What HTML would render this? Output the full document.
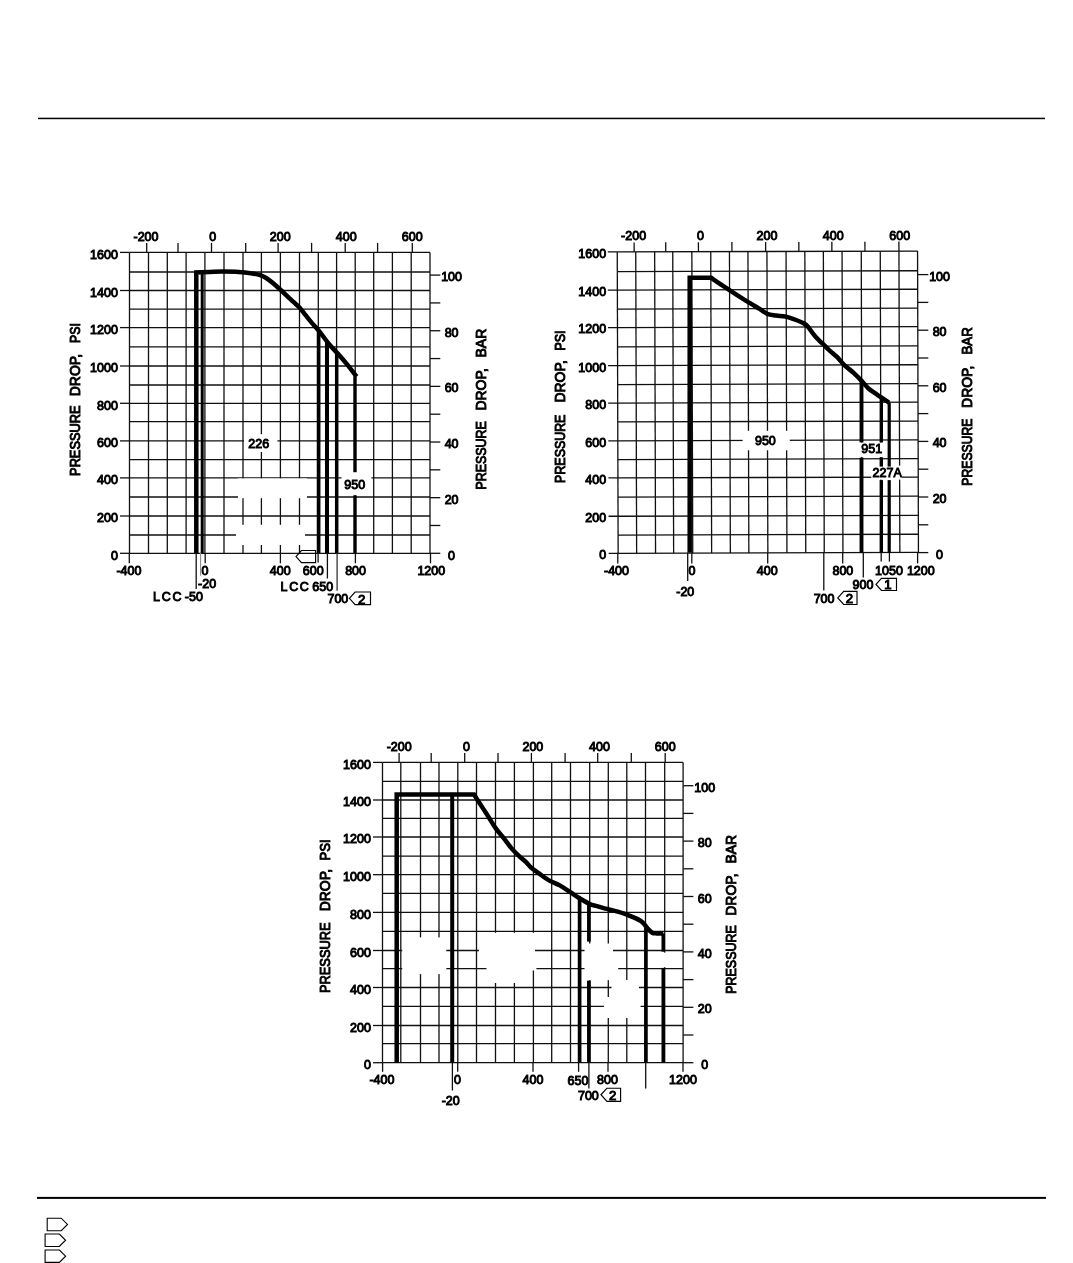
<!DOCTYPE html><html><head><meta charset="utf-8"><style>html,body{margin:0;padding:0;background:#fff;width:1073px;height:1263px;overflow:hidden}svg{display:block;will-change:transform}text{font-family:"Liberation Sans",sans-serif;font-weight:normal;fill:#000;stroke:#000;stroke-width:0.95px}</style></head><body>
<svg width="1073" height="1263" viewBox="0 0 1073 1263">
<rect x="0" y="0" width="1073" height="1263" fill="#fff"/>
<rect x="38" y="117.7" width="1007" height="1.5" fill="#000"/>
<rect x="37" y="1196.9" width="1009" height="2" fill="#000"/>
<path d="M47.20,1218.20 L61.25,1218.20 L67.50,1224.45 L61.25,1230.70 L47.20,1230.70 Z" fill="none" stroke="#000" stroke-width="1.1"/>
<path d="M45.10,1234.00 L59.35,1234.00 L65.60,1240.25 L59.35,1246.50 L45.10,1246.50 Z" fill="none" stroke="#000" stroke-width="1.1"/>
<path d="M45.10,1250.00 L59.40,1250.00 L65.60,1256.20 L59.40,1262.40 L45.10,1262.40 Z" fill="none" stroke="#000" stroke-width="1.1"/>
<g transform="rotate(0 279.8 402.8)">
<line x1="129.50" y1="252.40" x2="129.50" y2="553.30" stroke="#101010" stroke-width="1.3" stroke-linecap="butt"/>
<line x1="148.50" y1="252.40" x2="148.50" y2="553.30" stroke="#101010" stroke-width="1.3" stroke-linecap="butt"/>
<line x1="167.30" y1="252.40" x2="167.30" y2="553.30" stroke="#101010" stroke-width="1.3" stroke-linecap="butt"/>
<line x1="186.10" y1="252.40" x2="186.10" y2="553.30" stroke="#101010" stroke-width="1.3" stroke-linecap="butt"/>
<line x1="204.90" y1="252.40" x2="204.90" y2="553.30" stroke="#101010" stroke-width="1.3" stroke-linecap="butt"/>
<line x1="224.00" y1="252.40" x2="224.00" y2="553.30" stroke="#101010" stroke-width="1.3" stroke-linecap="butt"/>
<line x1="243.00" y1="252.40" x2="243.00" y2="553.30" stroke="#101010" stroke-width="1.3" stroke-linecap="butt"/>
<line x1="261.40" y1="252.40" x2="261.40" y2="553.30" stroke="#101010" stroke-width="1.3" stroke-linecap="butt"/>
<line x1="280.40" y1="252.40" x2="280.40" y2="553.30" stroke="#101010" stroke-width="1.3" stroke-linecap="butt"/>
<line x1="299.50" y1="252.40" x2="299.50" y2="553.30" stroke="#101010" stroke-width="1.3" stroke-linecap="butt"/>
<line x1="318.30" y1="252.40" x2="318.30" y2="553.30" stroke="#101010" stroke-width="1.3" stroke-linecap="butt"/>
<line x1="336.60" y1="252.40" x2="336.60" y2="553.30" stroke="#101010" stroke-width="1.3" stroke-linecap="butt"/>
<line x1="355.20" y1="252.40" x2="355.20" y2="553.30" stroke="#101010" stroke-width="1.3" stroke-linecap="butt"/>
<line x1="373.70" y1="252.40" x2="373.70" y2="553.30" stroke="#101010" stroke-width="1.3" stroke-linecap="butt"/>
<line x1="392.40" y1="252.40" x2="392.40" y2="553.30" stroke="#101010" stroke-width="1.3" stroke-linecap="butt"/>
<line x1="411.20" y1="252.40" x2="411.20" y2="553.30" stroke="#101010" stroke-width="1.3" stroke-linecap="butt"/>
<line x1="430.00" y1="252.40" x2="430.00" y2="553.30" stroke="#101010" stroke-width="1.3" stroke-linecap="butt"/>
<line x1="129.50" y1="252.40" x2="430.00" y2="252.40" stroke="#101010" stroke-width="1.3" stroke-linecap="butt"/>
<line x1="129.50" y1="272.00" x2="430.00" y2="272.00" stroke="#101010" stroke-width="1.3" stroke-linecap="butt"/>
<line x1="129.50" y1="290.50" x2="430.00" y2="290.50" stroke="#101010" stroke-width="1.3" stroke-linecap="butt"/>
<line x1="129.50" y1="309.10" x2="430.00" y2="309.10" stroke="#101010" stroke-width="1.3" stroke-linecap="butt"/>
<line x1="129.50" y1="327.60" x2="430.00" y2="327.60" stroke="#101010" stroke-width="1.3" stroke-linecap="butt"/>
<line x1="129.50" y1="346.80" x2="430.00" y2="346.80" stroke="#101010" stroke-width="1.3" stroke-linecap="butt"/>
<line x1="129.50" y1="366.00" x2="430.00" y2="366.00" stroke="#101010" stroke-width="1.3" stroke-linecap="butt"/>
<line x1="129.50" y1="385.00" x2="430.00" y2="385.00" stroke="#101010" stroke-width="1.3" stroke-linecap="butt"/>
<line x1="129.50" y1="403.30" x2="430.00" y2="403.30" stroke="#101010" stroke-width="1.3" stroke-linecap="butt"/>
<line x1="129.50" y1="421.70" x2="430.00" y2="421.70" stroke="#101010" stroke-width="1.3" stroke-linecap="butt"/>
<line x1="129.50" y1="440.90" x2="430.00" y2="440.90" stroke="#101010" stroke-width="1.3" stroke-linecap="butt"/>
<line x1="129.50" y1="459.70" x2="430.00" y2="459.70" stroke="#101010" stroke-width="1.3" stroke-linecap="butt"/>
<line x1="129.50" y1="477.90" x2="430.00" y2="477.90" stroke="#101010" stroke-width="1.3" stroke-linecap="butt"/>
<line x1="129.50" y1="497.00" x2="430.00" y2="497.00" stroke="#101010" stroke-width="1.3" stroke-linecap="butt"/>
<line x1="129.50" y1="516.00" x2="430.00" y2="516.00" stroke="#101010" stroke-width="1.3" stroke-linecap="butt"/>
<line x1="129.50" y1="535.00" x2="430.00" y2="535.00" stroke="#101010" stroke-width="1.3" stroke-linecap="butt"/>
<line x1="129.50" y1="553.30" x2="430.00" y2="553.30" stroke="#101010" stroke-width="1.3" stroke-linecap="butt"/>
<line x1="120.00" y1="553.30" x2="129.50" y2="553.30" stroke="#101010" stroke-width="1.3" stroke-linecap="butt"/>
<line x1="120.00" y1="516.00" x2="129.50" y2="516.00" stroke="#101010" stroke-width="1.3" stroke-linecap="butt"/>
<line x1="120.00" y1="477.90" x2="129.50" y2="477.90" stroke="#101010" stroke-width="1.3" stroke-linecap="butt"/>
<line x1="120.00" y1="440.90" x2="129.50" y2="440.90" stroke="#101010" stroke-width="1.3" stroke-linecap="butt"/>
<line x1="120.00" y1="403.30" x2="129.50" y2="403.30" stroke="#101010" stroke-width="1.3" stroke-linecap="butt"/>
<line x1="120.00" y1="366.00" x2="129.50" y2="366.00" stroke="#101010" stroke-width="1.3" stroke-linecap="butt"/>
<line x1="120.00" y1="327.60" x2="129.50" y2="327.60" stroke="#101010" stroke-width="1.3" stroke-linecap="butt"/>
<line x1="120.00" y1="290.50" x2="129.50" y2="290.50" stroke="#101010" stroke-width="1.3" stroke-linecap="butt"/>
<line x1="120.00" y1="252.40" x2="129.50" y2="252.40" stroke="#101010" stroke-width="1.3" stroke-linecap="butt"/>
<line x1="146.70" y1="242.90" x2="146.70" y2="252.40" stroke="#101010" stroke-width="1.3" stroke-linecap="butt"/>
<line x1="178.00" y1="242.90" x2="178.00" y2="252.40" stroke="#101010" stroke-width="1.3" stroke-linecap="butt"/>
<line x1="211.50" y1="242.90" x2="211.50" y2="252.40" stroke="#101010" stroke-width="1.3" stroke-linecap="butt"/>
<line x1="245.70" y1="242.90" x2="245.70" y2="252.40" stroke="#101010" stroke-width="1.3" stroke-linecap="butt"/>
<line x1="278.10" y1="242.90" x2="278.10" y2="252.40" stroke="#101010" stroke-width="1.3" stroke-linecap="butt"/>
<line x1="311.60" y1="242.90" x2="311.60" y2="252.40" stroke="#101010" stroke-width="1.3" stroke-linecap="butt"/>
<line x1="345.20" y1="242.90" x2="345.20" y2="252.40" stroke="#101010" stroke-width="1.3" stroke-linecap="butt"/>
<line x1="377.60" y1="242.90" x2="377.60" y2="252.40" stroke="#101010" stroke-width="1.3" stroke-linecap="butt"/>
<line x1="412.30" y1="242.90" x2="412.30" y2="252.40" stroke="#101010" stroke-width="1.3" stroke-linecap="butt"/>
</g>
<line x1="430.00" y1="553.30" x2="440.30" y2="553.30" stroke="#101010" stroke-width="1.3" stroke-linecap="butt"/>
<line x1="430.00" y1="525.48" x2="440.30" y2="525.48" stroke="#101010" stroke-width="1.3" stroke-linecap="butt"/>
<line x1="430.00" y1="497.66" x2="440.30" y2="497.66" stroke="#101010" stroke-width="1.3" stroke-linecap="butt"/>
<line x1="430.00" y1="469.84" x2="440.30" y2="469.84" stroke="#101010" stroke-width="1.3" stroke-linecap="butt"/>
<line x1="430.00" y1="442.02" x2="440.30" y2="442.02" stroke="#101010" stroke-width="1.3" stroke-linecap="butt"/>
<line x1="430.00" y1="414.20" x2="440.30" y2="414.20" stroke="#101010" stroke-width="1.3" stroke-linecap="butt"/>
<line x1="430.00" y1="386.38" x2="440.30" y2="386.38" stroke="#101010" stroke-width="1.3" stroke-linecap="butt"/>
<line x1="430.00" y1="358.56" x2="440.30" y2="358.56" stroke="#101010" stroke-width="1.3" stroke-linecap="butt"/>
<line x1="430.00" y1="330.74" x2="440.30" y2="330.74" stroke="#101010" stroke-width="1.3" stroke-linecap="butt"/>
<line x1="430.00" y1="302.92" x2="440.30" y2="302.92" stroke="#101010" stroke-width="1.3" stroke-linecap="butt"/>
<line x1="430.00" y1="275.10" x2="440.30" y2="275.10" stroke="#101010" stroke-width="1.3" stroke-linecap="butt"/>
<text x="451.60" y="559.90" text-anchor="middle" font-size="12.5" >0</text>
<text x="451.60" y="503.66" text-anchor="middle" font-size="12.5" >20</text>
<text x="451.60" y="448.02" text-anchor="middle" font-size="12.5" >40</text>
<text x="451.60" y="392.38" text-anchor="middle" font-size="12.5" >60</text>
<text x="451.60" y="336.74" text-anchor="middle" font-size="12.5" >80</text>
<text x="451.60" y="281.10" text-anchor="middle" font-size="12.5" >100</text>
<text x="117.90" y="559.60" text-anchor="end" font-size="12.5" >0</text>
<text x="117.90" y="522.30" text-anchor="end" font-size="12.5" >200</text>
<text x="117.90" y="484.20" text-anchor="end" font-size="12.5" >400</text>
<text x="117.90" y="447.20" text-anchor="end" font-size="12.5" >600</text>
<text x="117.90" y="409.60" text-anchor="end" font-size="12.5" >800</text>
<text x="117.90" y="372.30" text-anchor="end" font-size="12.5" >1000</text>
<text x="117.90" y="333.90" text-anchor="end" font-size="12.5" >1200</text>
<text x="117.90" y="296.80" text-anchor="end" font-size="12.5" >1400</text>
<text x="117.90" y="258.70" text-anchor="end" font-size="12.5" >1600</text>
<text x="146.00" y="240.50" text-anchor="middle" font-size="12.5" >-200</text>
<text x="212.70" y="240.50" text-anchor="middle" font-size="12.5" >0</text>
<text x="280.30" y="240.50" text-anchor="middle" font-size="12.5" >200</text>
<text x="346.30" y="240.50" text-anchor="middle" font-size="12.5" >400</text>
<text x="412.30" y="240.50" text-anchor="middle" font-size="12.5" >600</text>
<rect x="244.00" y="434.20" width="33.40" height="17.80" fill="#fff"/>
<rect x="238.00" y="478.40" width="69.00" height="19.80" fill="#fff"/>
<rect x="236.00" y="524.80" width="69.00" height="20.20" fill="#fff"/>
<rect x="341.50" y="472.00" width="29.90" height="23.30" fill="#fff"/>
<path d="M196.30,553.20 L196.30,272.40 C200.87,272.23 205.27,272.03 210.00,271.90 C214.73,271.77 218.88,271.48 224.70,271.60 C230.52,271.72 239.30,272.10 244.90,272.60 C250.50,273.10 255.12,273.90 258.30,274.60 C261.48,275.30 262.08,275.80 264.00,276.80 C265.92,277.80 267.83,279.15 269.80,280.60 C271.77,282.05 273.80,283.77 275.80,285.50 C277.80,287.23 279.68,289.03 281.80,291.00 C283.92,292.97 286.52,295.43 288.50,297.30 C290.48,299.17 291.83,300.47 293.70,302.20 C295.57,303.93 297.72,305.53 299.70,307.70 C301.68,309.87 303.62,312.72 305.60,315.20 C307.58,317.68 309.43,320.05 311.60,322.60 C313.77,325.15 315.57,326.77 318.60,330.50 C321.63,334.23 326.32,340.83 329.80,345.00 C333.28,349.17 336.52,352.13 339.50,355.50 C342.48,358.87 345.08,361.98 347.70,365.20 C350.32,368.42 353.68,372.90 355.20,374.80 C356.72,376.70 356.27,376.00 356.80,376.60" fill="none" stroke="#000" stroke-width="4.5" stroke-linejoin="miter" stroke-miterlimit="1.6"/>
<line x1="202.20" y1="272.80" x2="202.20" y2="553.20" stroke="#000" stroke-width="3.0"/>
<line x1="318.60" y1="331.00" x2="318.60" y2="553.20" stroke="#000" stroke-width="3.7"/>
<line x1="327.00" y1="342.80" x2="327.00" y2="553.20" stroke="#000" stroke-width="4.0"/>
<line x1="336.70" y1="353.00" x2="336.70" y2="553.20" stroke="#000" stroke-width="3.5"/>
<line x1="355.00" y1="376.20" x2="355.00" y2="472.20" stroke="#000" stroke-width="3.4"/>
<line x1="355.00" y1="495.30" x2="355.00" y2="553.20" stroke="#000" stroke-width="3.4"/>
<line x1="129.30" y1="553.00" x2="129.30" y2="563.30" stroke="#101010" stroke-width="1.3" stroke-linecap="butt"/>
<line x1="205.20" y1="553.00" x2="205.20" y2="563.30" stroke="#101010" stroke-width="1.3" stroke-linecap="butt"/>
<line x1="280.40" y1="553.00" x2="280.40" y2="563.30" stroke="#101010" stroke-width="1.3" stroke-linecap="butt"/>
<line x1="355.40" y1="553.00" x2="355.40" y2="563.30" stroke="#101010" stroke-width="1.3" stroke-linecap="butt"/>
<line x1="430.50" y1="553.00" x2="430.50" y2="563.30" stroke="#101010" stroke-width="1.3" stroke-linecap="butt"/>
<text x="128.90" y="575.10" text-anchor="middle" font-size="12.5" >-400</text>
<text x="204.90" y="575.10" text-anchor="middle" font-size="12.5" >0</text>
<text x="280.30" y="575.10" text-anchor="middle" font-size="12.5" >400</text>
<text x="355.60" y="575.10" text-anchor="middle" font-size="12.5" >800</text>
<text x="431.30" y="575.10" text-anchor="middle" font-size="12.5" >1200</text>
<line x1="318.10" y1="553.00" x2="318.10" y2="562.60" stroke="#101010" stroke-width="1.3" stroke-linecap="butt"/>
<text x="313.30" y="575.00" text-anchor="middle" font-size="12.5" >600</text>
<line x1="200.60" y1="553.00" x2="200.60" y2="575.80" stroke="#8a8a8a" stroke-width="1.1" stroke-linecap="butt"/>
<text x="207.10" y="587.80" text-anchor="middle" font-size="12.5" >-20</text>
<line x1="196.20" y1="553.00" x2="196.20" y2="589.10" stroke="#101010" stroke-width="1.3" stroke-linecap="butt"/>
<text x="152.90" y="600.50" text-anchor="start" font-size="12.5" textLength="28.6" lengthAdjust="spacing" >LCC</text>
<text x="193.90" y="600.50" text-anchor="middle" font-size="12.5" >-50</text>
<path d="M296.00,556.55 L301.44,550.50 L315.60,550.50 L315.60,562.60 L301.44,562.60 Z" fill="none" stroke="#000" stroke-width="1.15" stroke-linejoin="miter"/>
<line x1="327.40" y1="553.00" x2="327.40" y2="578.50" stroke="#101010" stroke-width="1.3" stroke-linecap="butt"/>
<text x="280.60" y="590.60" text-anchor="start" font-size="12.5" textLength="28.2" lengthAdjust="spacing" >LCC</text>
<text x="322.80" y="590.60" text-anchor="middle" font-size="12.5" >650</text>
<line x1="337.10" y1="553.00" x2="337.10" y2="590.80" stroke="#333" stroke-width="1.3" stroke-linecap="butt"/>
<text x="337.90" y="603.10" text-anchor="middle" font-size="12.5" >700</text>
<path d="M349.40,598.30 L355.07,592.00 L370.50,592.00 L370.50,604.60 L355.07,604.60 Z" fill="none" stroke="#000" stroke-width="1.15" stroke-linejoin="miter"/>
<text x="361.78" y="603.50" text-anchor="middle" font-size="13.2" style="stroke-width:1.0px">2</text>
<text x="258.80" y="447.80" text-anchor="middle" font-size="12.5" >226</text>
<text x="354.80" y="489.30" text-anchor="middle" font-size="12.5" >950</text>
<g transform="translate(80.30,474.50) rotate(-90)" font-size="14">
<text x="-1.4" y="0" textLength="70.30" lengthAdjust="spacingAndGlyphs">PRESSURE</text>
<text x="78.30" y="0" textLength="40.3" lengthAdjust="spacingAndGlyphs">DROP</text>
<text x="116.80" y="0">,</text>
<text x="131.50" y="0" textLength="19.80" lengthAdjust="spacingAndGlyphs">PSI</text>
</g>
<g transform="translate(486.30,488.20) rotate(-90)" font-size="14">
<text x="-1.4" y="0" textLength="68.30" lengthAdjust="spacingAndGlyphs">PRESSURE</text>
<text x="77.60" y="0" textLength="40.3" lengthAdjust="spacingAndGlyphs">DROP</text>
<text x="116.10" y="0">,</text>
<text x="130.70" y="0" textLength="28.80" lengthAdjust="spacingAndGlyphs">BAR</text>
</g>
<g transform="rotate(-0.17 767.9 402.2)">
<line x1="617.70" y1="251.50" x2="617.70" y2="552.85" stroke="#101010" stroke-width="1.3" stroke-linecap="butt"/>
<line x1="636.20" y1="251.50" x2="636.20" y2="552.85" stroke="#101010" stroke-width="1.3" stroke-linecap="butt"/>
<line x1="655.10" y1="251.50" x2="655.10" y2="552.85" stroke="#101010" stroke-width="1.3" stroke-linecap="butt"/>
<line x1="673.20" y1="251.50" x2="673.20" y2="552.85" stroke="#101010" stroke-width="1.3" stroke-linecap="butt"/>
<line x1="692.30" y1="251.50" x2="692.30" y2="552.85" stroke="#101010" stroke-width="1.3" stroke-linecap="butt"/>
<line x1="711.20" y1="251.50" x2="711.20" y2="552.85" stroke="#101010" stroke-width="1.3" stroke-linecap="butt"/>
<line x1="729.90" y1="251.50" x2="729.90" y2="552.85" stroke="#101010" stroke-width="1.3" stroke-linecap="butt"/>
<line x1="748.40" y1="251.50" x2="748.40" y2="552.85" stroke="#101010" stroke-width="1.3" stroke-linecap="butt"/>
<line x1="767.40" y1="251.50" x2="767.40" y2="552.85" stroke="#101010" stroke-width="1.3" stroke-linecap="butt"/>
<line x1="786.50" y1="251.50" x2="786.50" y2="552.85" stroke="#101010" stroke-width="1.3" stroke-linecap="butt"/>
<line x1="805.30" y1="251.50" x2="805.30" y2="552.85" stroke="#101010" stroke-width="1.3" stroke-linecap="butt"/>
<line x1="823.80" y1="251.50" x2="823.80" y2="552.85" stroke="#101010" stroke-width="1.3" stroke-linecap="butt"/>
<line x1="842.50" y1="251.50" x2="842.50" y2="552.85" stroke="#101010" stroke-width="1.3" stroke-linecap="butt"/>
<line x1="861.70" y1="251.50" x2="861.70" y2="552.85" stroke="#101010" stroke-width="1.3" stroke-linecap="butt"/>
<line x1="880.70" y1="251.50" x2="880.70" y2="552.85" stroke="#101010" stroke-width="1.3" stroke-linecap="butt"/>
<line x1="899.40" y1="251.50" x2="899.40" y2="552.85" stroke="#101010" stroke-width="1.3" stroke-linecap="butt"/>
<line x1="918.00" y1="251.50" x2="918.00" y2="552.85" stroke="#101010" stroke-width="1.3" stroke-linecap="butt"/>
<line x1="617.70" y1="251.50" x2="918.00" y2="251.50" stroke="#101010" stroke-width="1.3" stroke-linecap="butt"/>
<line x1="617.70" y1="271.20" x2="918.00" y2="271.20" stroke="#101010" stroke-width="1.3" stroke-linecap="butt"/>
<line x1="617.70" y1="289.70" x2="918.00" y2="289.70" stroke="#101010" stroke-width="1.3" stroke-linecap="butt"/>
<line x1="617.70" y1="308.60" x2="918.00" y2="308.60" stroke="#101010" stroke-width="1.3" stroke-linecap="butt"/>
<line x1="617.70" y1="327.10" x2="918.00" y2="327.10" stroke="#101010" stroke-width="1.3" stroke-linecap="butt"/>
<line x1="617.70" y1="346.40" x2="918.00" y2="346.40" stroke="#101010" stroke-width="1.3" stroke-linecap="butt"/>
<line x1="617.70" y1="365.20" x2="918.00" y2="365.20" stroke="#101010" stroke-width="1.3" stroke-linecap="butt"/>
<line x1="617.70" y1="384.10" x2="918.00" y2="384.10" stroke="#101010" stroke-width="1.3" stroke-linecap="butt"/>
<line x1="617.70" y1="402.60" x2="918.00" y2="402.60" stroke="#101010" stroke-width="1.3" stroke-linecap="butt"/>
<line x1="617.70" y1="421.50" x2="918.00" y2="421.50" stroke="#101010" stroke-width="1.3" stroke-linecap="butt"/>
<line x1="617.70" y1="440.40" x2="918.00" y2="440.40" stroke="#101010" stroke-width="1.3" stroke-linecap="butt"/>
<line x1="617.70" y1="459.10" x2="918.00" y2="459.10" stroke="#101010" stroke-width="1.3" stroke-linecap="butt"/>
<line x1="617.70" y1="477.50" x2="918.00" y2="477.50" stroke="#101010" stroke-width="1.3" stroke-linecap="butt"/>
<line x1="617.70" y1="496.60" x2="918.00" y2="496.60" stroke="#101010" stroke-width="1.3" stroke-linecap="butt"/>
<line x1="617.70" y1="515.80" x2="918.00" y2="515.80" stroke="#101010" stroke-width="1.3" stroke-linecap="butt"/>
<line x1="617.70" y1="534.70" x2="918.00" y2="534.70" stroke="#101010" stroke-width="1.3" stroke-linecap="butt"/>
<line x1="617.70" y1="552.85" x2="918.00" y2="552.85" stroke="#101010" stroke-width="1.3" stroke-linecap="butt"/>
<line x1="608.20" y1="552.85" x2="617.70" y2="552.85" stroke="#101010" stroke-width="1.3" stroke-linecap="butt"/>
<line x1="608.20" y1="515.80" x2="617.70" y2="515.80" stroke="#101010" stroke-width="1.3" stroke-linecap="butt"/>
<line x1="608.20" y1="477.50" x2="617.70" y2="477.50" stroke="#101010" stroke-width="1.3" stroke-linecap="butt"/>
<line x1="608.20" y1="440.40" x2="617.70" y2="440.40" stroke="#101010" stroke-width="1.3" stroke-linecap="butt"/>
<line x1="608.20" y1="402.60" x2="617.70" y2="402.60" stroke="#101010" stroke-width="1.3" stroke-linecap="butt"/>
<line x1="608.20" y1="365.20" x2="617.70" y2="365.20" stroke="#101010" stroke-width="1.3" stroke-linecap="butt"/>
<line x1="608.20" y1="327.10" x2="617.70" y2="327.10" stroke="#101010" stroke-width="1.3" stroke-linecap="butt"/>
<line x1="608.20" y1="289.70" x2="617.70" y2="289.70" stroke="#101010" stroke-width="1.3" stroke-linecap="butt"/>
<line x1="608.20" y1="251.50" x2="617.70" y2="251.50" stroke="#101010" stroke-width="1.3" stroke-linecap="butt"/>
<line x1="634.60" y1="242.00" x2="634.60" y2="251.50" stroke="#101010" stroke-width="1.3" stroke-linecap="butt"/>
<line x1="666.20" y1="242.00" x2="666.20" y2="251.50" stroke="#101010" stroke-width="1.3" stroke-linecap="butt"/>
<line x1="698.90" y1="242.00" x2="698.90" y2="251.50" stroke="#101010" stroke-width="1.3" stroke-linecap="butt"/>
<line x1="732.40" y1="242.00" x2="732.40" y2="251.50" stroke="#101010" stroke-width="1.3" stroke-linecap="butt"/>
<line x1="766.10" y1="242.00" x2="766.10" y2="251.50" stroke="#101010" stroke-width="1.3" stroke-linecap="butt"/>
<line x1="799.30" y1="242.00" x2="799.30" y2="251.50" stroke="#101010" stroke-width="1.3" stroke-linecap="butt"/>
<line x1="832.30" y1="242.00" x2="832.30" y2="251.50" stroke="#101010" stroke-width="1.3" stroke-linecap="butt"/>
<line x1="865.40" y1="242.00" x2="865.40" y2="251.50" stroke="#101010" stroke-width="1.3" stroke-linecap="butt"/>
<line x1="899.40" y1="242.00" x2="899.40" y2="251.50" stroke="#101010" stroke-width="1.3" stroke-linecap="butt"/>
</g>
<line x1="918.00" y1="552.60" x2="928.30" y2="552.60" stroke="#101010" stroke-width="1.3" stroke-linecap="butt"/>
<line x1="918.00" y1="524.80" x2="928.30" y2="524.80" stroke="#101010" stroke-width="1.3" stroke-linecap="butt"/>
<line x1="918.00" y1="497.00" x2="928.30" y2="497.00" stroke="#101010" stroke-width="1.3" stroke-linecap="butt"/>
<line x1="918.00" y1="469.20" x2="928.30" y2="469.20" stroke="#101010" stroke-width="1.3" stroke-linecap="butt"/>
<line x1="918.00" y1="441.40" x2="928.30" y2="441.40" stroke="#101010" stroke-width="1.3" stroke-linecap="butt"/>
<line x1="918.00" y1="413.60" x2="928.30" y2="413.60" stroke="#101010" stroke-width="1.3" stroke-linecap="butt"/>
<line x1="918.00" y1="385.80" x2="928.30" y2="385.80" stroke="#101010" stroke-width="1.3" stroke-linecap="butt"/>
<line x1="918.00" y1="358.00" x2="928.30" y2="358.00" stroke="#101010" stroke-width="1.3" stroke-linecap="butt"/>
<line x1="918.00" y1="330.20" x2="928.30" y2="330.20" stroke="#101010" stroke-width="1.3" stroke-linecap="butt"/>
<line x1="918.00" y1="302.40" x2="928.30" y2="302.40" stroke="#101010" stroke-width="1.3" stroke-linecap="butt"/>
<line x1="918.00" y1="274.60" x2="928.30" y2="274.60" stroke="#101010" stroke-width="1.3" stroke-linecap="butt"/>
<text x="939.60" y="559.20" text-anchor="middle" font-size="12.5" >0</text>
<text x="939.60" y="503.00" text-anchor="middle" font-size="12.5" >20</text>
<text x="939.60" y="447.40" text-anchor="middle" font-size="12.5" >40</text>
<text x="939.60" y="391.80" text-anchor="middle" font-size="12.5" >60</text>
<text x="939.60" y="336.20" text-anchor="middle" font-size="12.5" >80</text>
<text x="939.60" y="280.60" text-anchor="middle" font-size="12.5" >100</text>
<text x="606.10" y="559.15" text-anchor="end" font-size="12.5" >0</text>
<text x="606.10" y="522.10" text-anchor="end" font-size="12.5" >200</text>
<text x="606.10" y="483.80" text-anchor="end" font-size="12.5" >400</text>
<text x="606.10" y="446.70" text-anchor="end" font-size="12.5" >600</text>
<text x="606.10" y="408.90" text-anchor="end" font-size="12.5" >800</text>
<text x="606.10" y="371.50" text-anchor="end" font-size="12.5" >1000</text>
<text x="606.10" y="333.40" text-anchor="end" font-size="12.5" >1200</text>
<text x="606.10" y="296.00" text-anchor="end" font-size="12.5" >1400</text>
<text x="606.10" y="257.80" text-anchor="end" font-size="12.5" >1600</text>
<text x="633.60" y="239.60" text-anchor="middle" font-size="12.5" >-200</text>
<text x="700.50" y="239.60" text-anchor="middle" font-size="12.5" >0</text>
<text x="767.00" y="239.60" text-anchor="middle" font-size="12.5" >200</text>
<text x="833.20" y="239.60" text-anchor="middle" font-size="12.5" >400</text>
<text x="899.80" y="239.60" text-anchor="middle" font-size="12.5" >600</text>
<rect x="742.60" y="430.80" width="47.20" height="19.50" fill="#fff"/>
<rect x="871.30" y="465.60" width="30.80" height="14.00" fill="#fff"/>
<rect x="858.60" y="442.60" width="6.00" height="14.40" fill="#fff"/>
<rect x="878.40" y="442.60" width="5.80" height="14.40" fill="#fff"/>
<path d="M689.70,552.80 L689.70,277.70 L711.00,277.70 C714.00,279.77 716.67,281.65 720.00,283.90 C723.33,286.15 727.10,288.65 731.00,291.20 C734.90,293.75 739.90,297.00 743.40,299.20 C746.90,301.40 749.23,302.73 752.00,304.40 C754.77,306.07 757.47,307.63 760.00,309.20 C762.53,310.77 764.52,312.75 767.20,313.80 C769.88,314.85 773.00,315.03 776.10,315.50 C779.20,315.97 782.45,315.85 785.80,316.60 C789.15,317.35 793.22,318.88 796.20,320.00 C799.18,321.12 801.70,322.12 803.70,323.30 C805.70,324.48 806.22,324.85 808.20,327.10 C810.18,329.35 812.87,333.70 815.60,336.80 C818.33,339.90 822.20,343.35 824.60,345.70 C827.00,348.05 827.90,348.98 830.00,350.90 C832.10,352.82 834.77,354.78 837.20,357.20 C839.63,359.62 841.87,362.80 844.60,365.40 C847.33,368.00 850.80,370.27 853.60,372.80 C856.40,375.33 858.92,377.98 861.40,380.60 C863.88,383.22 865.95,386.20 868.50,388.50 C871.05,390.80 874.22,392.67 876.70,394.40 C879.18,396.13 881.35,397.53 883.40,398.90 C885.45,400.27 887.13,401.37 889.00,402.60" fill="none" stroke="#000" stroke-width="4.5" stroke-linejoin="miter" stroke-miterlimit="1.6"/>
<line x1="861.50" y1="381.00" x2="861.50" y2="442.40" stroke="#000" stroke-width="3.9"/>
<line x1="861.50" y1="457.70" x2="861.50" y2="552.80" stroke="#000" stroke-width="3.9"/>
<line x1="881.30" y1="397.00" x2="881.30" y2="442.40" stroke="#000" stroke-width="3.4"/>
<line x1="881.30" y1="457.30" x2="881.30" y2="466.60" stroke="#000" stroke-width="3.4"/>
<line x1="881.30" y1="480.10" x2="881.30" y2="552.80" stroke="#000" stroke-width="3.4"/>
<line x1="889.20" y1="402.60" x2="889.20" y2="466.60" stroke="#000" stroke-width="3.2"/>
<line x1="889.20" y1="480.10" x2="889.20" y2="552.80" stroke="#000" stroke-width="3.2"/>
<line x1="617.80" y1="552.80" x2="617.80" y2="563.40" stroke="#101010" stroke-width="1.3" stroke-linecap="butt"/>
<line x1="767.70" y1="552.80" x2="767.70" y2="563.40" stroke="#101010" stroke-width="1.3" stroke-linecap="butt"/>
<line x1="842.70" y1="552.80" x2="842.70" y2="563.40" stroke="#101010" stroke-width="1.3" stroke-linecap="butt"/>
<line x1="917.60" y1="552.80" x2="917.60" y2="563.40" stroke="#101010" stroke-width="1.3" stroke-linecap="butt"/>
<text x="616.50" y="575.00" text-anchor="middle" font-size="12.5" >-400</text>
<text x="767.20" y="575.00" text-anchor="middle" font-size="12.5" >400</text>
<text x="842.90" y="575.00" text-anchor="middle" font-size="12.5" >800</text>
<text x="920.80" y="575.00" text-anchor="middle" font-size="12.5" >1200</text>
<line x1="691.80" y1="552.80" x2="691.80" y2="563.40" stroke="#101010" stroke-width="1.3" stroke-linecap="butt"/>
<text x="692.10" y="575.00" text-anchor="middle" font-size="12.5" >0</text>
<line x1="687.70" y1="552.80" x2="687.70" y2="581.10" stroke="#101010" stroke-width="1.3" stroke-linecap="butt"/>
<text x="685.30" y="595.50" text-anchor="middle" font-size="12.5" >-20</text>
<line x1="823.80" y1="552.80" x2="823.80" y2="590.50" stroke="#101010" stroke-width="1.3" stroke-linecap="butt"/>
<text x="824.10" y="603.00" text-anchor="middle" font-size="12.5" >700</text>
<path d="M837.80,597.95 L843.69,591.40 L857.00,591.40 L857.00,604.50 L843.69,604.50 Z" fill="none" stroke="#000" stroke-width="1.15" stroke-linejoin="miter"/>
<text x="849.35" y="603.40" text-anchor="middle" font-size="13.2" style="stroke-width:1.0px">2</text>
<line x1="863.30" y1="552.80" x2="863.30" y2="577.40" stroke="#101010" stroke-width="1.3" stroke-linecap="butt"/>
<text x="863.00" y="589.40" text-anchor="middle" font-size="12.5" >900</text>
<path d="M876.00,584.45 L881.45,578.40 L896.50,578.40 L896.50,590.50 L881.45,590.50 Z" fill="none" stroke="#000" stroke-width="1.15" stroke-linejoin="miter"/>
<text x="887.97" y="589.40" text-anchor="middle" font-size="13.2" style="stroke-width:1.0px">1</text>
<line x1="881.20" y1="552.80" x2="881.20" y2="561.60" stroke="#101010" stroke-width="1.3" stroke-linecap="butt"/>
<line x1="889.40" y1="552.80" x2="889.40" y2="561.60" stroke="#101010" stroke-width="1.3" stroke-linecap="butt"/>
<text x="889.00" y="575.00" text-anchor="middle" font-size="12.5" >1050</text>
<text x="765.40" y="445.20" text-anchor="middle" font-size="12.5" >950</text>
<text x="871.80" y="453.20" text-anchor="middle" font-size="12.5" >951</text>
<text x="887.20" y="476.80" text-anchor="middle" font-size="12.5" >227A</text>
<g transform="translate(565.40,481.50) rotate(-90)" font-size="14">
<text x="-1.4" y="0" textLength="68.30" lengthAdjust="spacingAndGlyphs">PRESSURE</text>
<text x="78.90" y="0" textLength="40.3" lengthAdjust="spacingAndGlyphs">DROP</text>
<text x="117.40" y="0">,</text>
<text x="130.90" y="0" textLength="20.20" lengthAdjust="spacingAndGlyphs">PSI</text>
</g>
<g transform="translate(972.20,484.30) rotate(-90)" font-size="14">
<text x="-1.4" y="0" textLength="67.10" lengthAdjust="spacingAndGlyphs">PRESSURE</text>
<text x="76.40" y="0" textLength="40.3" lengthAdjust="spacingAndGlyphs">DROP</text>
<text x="114.90" y="0">,</text>
<text x="129.70" y="0" textLength="27.40" lengthAdjust="spacingAndGlyphs">BAR</text>
</g>
<g transform="rotate(0 532.8 912.5)">
<line x1="382.50" y1="762.40" x2="382.50" y2="1062.70" stroke="#101010" stroke-width="1.3" stroke-linecap="butt"/>
<line x1="400.80" y1="762.40" x2="400.80" y2="1062.70" stroke="#101010" stroke-width="1.3" stroke-linecap="butt"/>
<line x1="420.50" y1="762.40" x2="420.50" y2="1062.70" stroke="#101010" stroke-width="1.3" stroke-linecap="butt"/>
<line x1="439.00" y1="762.40" x2="439.00" y2="1062.70" stroke="#101010" stroke-width="1.3" stroke-linecap="butt"/>
<line x1="457.80" y1="762.40" x2="457.80" y2="1062.70" stroke="#101010" stroke-width="1.3" stroke-linecap="butt"/>
<line x1="476.50" y1="762.40" x2="476.50" y2="1062.70" stroke="#101010" stroke-width="1.3" stroke-linecap="butt"/>
<line x1="495.50" y1="762.40" x2="495.50" y2="1062.70" stroke="#101010" stroke-width="1.3" stroke-linecap="butt"/>
<line x1="514.40" y1="762.40" x2="514.40" y2="1062.70" stroke="#101010" stroke-width="1.3" stroke-linecap="butt"/>
<line x1="533.40" y1="762.40" x2="533.40" y2="1062.70" stroke="#101010" stroke-width="1.3" stroke-linecap="butt"/>
<line x1="551.70" y1="762.40" x2="551.70" y2="1062.70" stroke="#101010" stroke-width="1.3" stroke-linecap="butt"/>
<line x1="570.50" y1="762.40" x2="570.50" y2="1062.70" stroke="#101010" stroke-width="1.3" stroke-linecap="butt"/>
<line x1="589.70" y1="762.40" x2="589.70" y2="1062.70" stroke="#101010" stroke-width="1.3" stroke-linecap="butt"/>
<line x1="608.30" y1="762.40" x2="608.30" y2="1062.70" stroke="#101010" stroke-width="1.3" stroke-linecap="butt"/>
<line x1="626.80" y1="762.40" x2="626.80" y2="1062.70" stroke="#101010" stroke-width="1.3" stroke-linecap="butt"/>
<line x1="645.50" y1="762.40" x2="645.50" y2="1062.70" stroke="#101010" stroke-width="1.3" stroke-linecap="butt"/>
<line x1="664.70" y1="762.40" x2="664.70" y2="1062.70" stroke="#101010" stroke-width="1.3" stroke-linecap="butt"/>
<line x1="683.10" y1="762.40" x2="683.10" y2="1062.70" stroke="#101010" stroke-width="1.3" stroke-linecap="butt"/>
<line x1="382.50" y1="762.40" x2="683.10" y2="762.40" stroke="#101010" stroke-width="1.3" stroke-linecap="butt"/>
<line x1="382.50" y1="781.30" x2="683.10" y2="781.30" stroke="#101010" stroke-width="1.3" stroke-linecap="butt"/>
<line x1="382.50" y1="800.00" x2="683.10" y2="800.00" stroke="#101010" stroke-width="1.3" stroke-linecap="butt"/>
<line x1="382.50" y1="818.40" x2="683.10" y2="818.40" stroke="#101010" stroke-width="1.3" stroke-linecap="butt"/>
<line x1="382.50" y1="837.00" x2="683.10" y2="837.00" stroke="#101010" stroke-width="1.3" stroke-linecap="butt"/>
<line x1="382.50" y1="856.10" x2="683.10" y2="856.10" stroke="#101010" stroke-width="1.3" stroke-linecap="butt"/>
<line x1="382.50" y1="874.70" x2="683.10" y2="874.70" stroke="#101010" stroke-width="1.3" stroke-linecap="butt"/>
<line x1="382.50" y1="893.40" x2="683.10" y2="893.40" stroke="#101010" stroke-width="1.3" stroke-linecap="butt"/>
<line x1="382.50" y1="912.40" x2="683.10" y2="912.40" stroke="#101010" stroke-width="1.3" stroke-linecap="butt"/>
<line x1="382.50" y1="931.30" x2="683.10" y2="931.30" stroke="#101010" stroke-width="1.3" stroke-linecap="butt"/>
<line x1="382.50" y1="950.50" x2="683.10" y2="950.50" stroke="#101010" stroke-width="1.3" stroke-linecap="butt"/>
<line x1="382.50" y1="968.60" x2="683.10" y2="968.60" stroke="#101010" stroke-width="1.3" stroke-linecap="butt"/>
<line x1="382.50" y1="987.50" x2="683.10" y2="987.50" stroke="#101010" stroke-width="1.3" stroke-linecap="butt"/>
<line x1="382.50" y1="1006.30" x2="683.10" y2="1006.30" stroke="#101010" stroke-width="1.3" stroke-linecap="butt"/>
<line x1="382.50" y1="1025.50" x2="683.10" y2="1025.50" stroke="#101010" stroke-width="1.3" stroke-linecap="butt"/>
<line x1="382.50" y1="1043.70" x2="683.10" y2="1043.70" stroke="#101010" stroke-width="1.3" stroke-linecap="butt"/>
<line x1="382.50" y1="1062.70" x2="683.10" y2="1062.70" stroke="#101010" stroke-width="1.3" stroke-linecap="butt"/>
<line x1="373.00" y1="1062.70" x2="382.50" y2="1062.70" stroke="#101010" stroke-width="1.3" stroke-linecap="butt"/>
<line x1="373.00" y1="1025.50" x2="382.50" y2="1025.50" stroke="#101010" stroke-width="1.3" stroke-linecap="butt"/>
<line x1="373.00" y1="987.50" x2="382.50" y2="987.50" stroke="#101010" stroke-width="1.3" stroke-linecap="butt"/>
<line x1="373.00" y1="950.50" x2="382.50" y2="950.50" stroke="#101010" stroke-width="1.3" stroke-linecap="butt"/>
<line x1="373.00" y1="912.40" x2="382.50" y2="912.40" stroke="#101010" stroke-width="1.3" stroke-linecap="butt"/>
<line x1="373.00" y1="874.70" x2="382.50" y2="874.70" stroke="#101010" stroke-width="1.3" stroke-linecap="butt"/>
<line x1="373.00" y1="837.00" x2="382.50" y2="837.00" stroke="#101010" stroke-width="1.3" stroke-linecap="butt"/>
<line x1="373.00" y1="800.00" x2="382.50" y2="800.00" stroke="#101010" stroke-width="1.3" stroke-linecap="butt"/>
<line x1="373.00" y1="762.40" x2="382.50" y2="762.40" stroke="#101010" stroke-width="1.3" stroke-linecap="butt"/>
<line x1="399.10" y1="752.90" x2="399.10" y2="762.40" stroke="#101010" stroke-width="1.3" stroke-linecap="butt"/>
<line x1="431.20" y1="752.90" x2="431.20" y2="762.40" stroke="#101010" stroke-width="1.3" stroke-linecap="butt"/>
<line x1="464.70" y1="752.90" x2="464.70" y2="762.40" stroke="#101010" stroke-width="1.3" stroke-linecap="butt"/>
<line x1="498.00" y1="752.90" x2="498.00" y2="762.40" stroke="#101010" stroke-width="1.3" stroke-linecap="butt"/>
<line x1="531.40" y1="752.90" x2="531.40" y2="762.40" stroke="#101010" stroke-width="1.3" stroke-linecap="butt"/>
<line x1="565.10" y1="752.90" x2="565.10" y2="762.40" stroke="#101010" stroke-width="1.3" stroke-linecap="butt"/>
<line x1="597.70" y1="752.90" x2="597.70" y2="762.40" stroke="#101010" stroke-width="1.3" stroke-linecap="butt"/>
<line x1="631.30" y1="752.90" x2="631.30" y2="762.40" stroke="#101010" stroke-width="1.3" stroke-linecap="butt"/>
<line x1="665.20" y1="752.90" x2="665.20" y2="762.40" stroke="#101010" stroke-width="1.3" stroke-linecap="butt"/>
</g>
<line x1="683.10" y1="1062.70" x2="693.40" y2="1062.70" stroke="#101010" stroke-width="1.3" stroke-linecap="butt"/>
<line x1="683.10" y1="1035.00" x2="693.40" y2="1035.00" stroke="#101010" stroke-width="1.3" stroke-linecap="butt"/>
<line x1="683.10" y1="1007.30" x2="693.40" y2="1007.30" stroke="#101010" stroke-width="1.3" stroke-linecap="butt"/>
<line x1="683.10" y1="979.60" x2="693.40" y2="979.60" stroke="#101010" stroke-width="1.3" stroke-linecap="butt"/>
<line x1="683.10" y1="951.90" x2="693.40" y2="951.90" stroke="#101010" stroke-width="1.3" stroke-linecap="butt"/>
<line x1="683.10" y1="924.20" x2="693.40" y2="924.20" stroke="#101010" stroke-width="1.3" stroke-linecap="butt"/>
<line x1="683.10" y1="896.50" x2="693.40" y2="896.50" stroke="#101010" stroke-width="1.3" stroke-linecap="butt"/>
<line x1="683.10" y1="868.80" x2="693.40" y2="868.80" stroke="#101010" stroke-width="1.3" stroke-linecap="butt"/>
<line x1="683.10" y1="841.10" x2="693.40" y2="841.10" stroke="#101010" stroke-width="1.3" stroke-linecap="butt"/>
<line x1="683.10" y1="813.40" x2="693.40" y2="813.40" stroke="#101010" stroke-width="1.3" stroke-linecap="butt"/>
<line x1="683.10" y1="785.70" x2="693.40" y2="785.70" stroke="#101010" stroke-width="1.3" stroke-linecap="butt"/>
<text x="704.70" y="1069.30" text-anchor="middle" font-size="12.5" >0</text>
<text x="704.70" y="1013.30" text-anchor="middle" font-size="12.5" >20</text>
<text x="704.70" y="957.90" text-anchor="middle" font-size="12.5" >40</text>
<text x="704.70" y="902.50" text-anchor="middle" font-size="12.5" >60</text>
<text x="704.70" y="847.10" text-anchor="middle" font-size="12.5" >80</text>
<text x="704.70" y="791.70" text-anchor="middle" font-size="12.5" >100</text>
<text x="370.90" y="1069.00" text-anchor="end" font-size="12.5" >0</text>
<text x="370.90" y="1031.80" text-anchor="end" font-size="12.5" >200</text>
<text x="370.90" y="993.80" text-anchor="end" font-size="12.5" >400</text>
<text x="370.90" y="956.80" text-anchor="end" font-size="12.5" >600</text>
<text x="370.90" y="918.70" text-anchor="end" font-size="12.5" >800</text>
<text x="370.90" y="881.00" text-anchor="end" font-size="12.5" >1000</text>
<text x="370.90" y="843.30" text-anchor="end" font-size="12.5" >1200</text>
<text x="370.90" y="806.30" text-anchor="end" font-size="12.5" >1400</text>
<text x="370.90" y="768.70" text-anchor="end" font-size="12.5" >1600</text>
<text x="399.20" y="750.50" text-anchor="middle" font-size="12.5" >-200</text>
<text x="466.50" y="750.50" text-anchor="middle" font-size="12.5" >0</text>
<text x="532.90" y="750.50" text-anchor="middle" font-size="12.5" >200</text>
<text x="599.50" y="750.50" text-anchor="middle" font-size="12.5" >400</text>
<text x="665.20" y="750.50" text-anchor="middle" font-size="12.5" >600</text>
<rect x="402.20" y="937.40" width="44.10" height="36.70" fill="#fff"/>
<rect x="479.00" y="932.80" width="56.00" height="27.20" fill="#fff"/>
<rect x="486.50" y="955.00" width="49.90" height="15.50" fill="#fff"/>
<rect x="487.00" y="970.00" width="44.50" height="13.00" fill="#fff"/>
<rect x="584.50" y="943.50" width="28.50" height="8.50" fill="#fff"/>
<rect x="584.50" y="952.00" width="33.70" height="28.20" fill="#fff"/>
<rect x="611.50" y="980.00" width="27.50" height="38.00" fill="#fff"/>
<rect x="603.90" y="997.00" width="36.70" height="21.00" fill="#fff"/>
<rect x="660.60" y="952.60" width="5.80" height="14.60" fill="#fff"/>
<path d="M396.70,1062.50 L396.70,794.40 L474.00,794.40 C475.00,796.00 474.92,795.97 477.00,799.20 C479.08,802.43 483.33,808.90 486.50,813.80 C489.67,818.70 493.07,824.47 496.00,828.60 C498.93,832.73 501.43,835.22 504.10,838.60 C506.77,841.98 509.37,845.87 512.00,848.90 C514.63,851.93 517.52,854.57 519.90,856.80 C522.28,859.03 524.45,860.52 526.30,862.30 C528.15,864.08 528.88,865.65 531.00,867.50 C533.12,869.35 536.07,871.30 539.00,873.40 C541.93,875.50 545.13,878.10 548.60,880.10 C552.07,882.10 556.18,883.40 559.80,885.40 C563.42,887.40 567.07,890.00 570.30,892.10 C573.53,894.20 575.97,896.02 579.20,898.00 C582.43,899.98 586.72,902.63 589.70,904.00 C592.68,905.37 593.90,905.28 597.10,906.20 C600.30,907.12 605.32,908.57 608.90,909.50 C612.48,910.43 615.73,910.98 618.60,911.80 C621.47,912.62 623.60,913.47 626.10,914.40 C628.60,915.33 631.12,916.28 633.60,917.40 C636.08,918.52 639.15,919.87 641.00,921.10 C642.85,922.33 643.58,923.55 644.70,924.80 C645.82,926.05 646.45,927.28 647.70,928.60 C648.95,929.92 650.70,931.90 652.20,932.70 C653.70,933.50 654.85,933.28 656.70,933.40 C658.55,933.52 661.10,933.40 663.30,933.40" fill="none" stroke="#000" stroke-width="4.5" stroke-linejoin="miter" stroke-miterlimit="1.6"/>
<line x1="452.20" y1="794.50" x2="452.20" y2="1062.50" stroke="#000" stroke-width="4.0"/>
<line x1="579.60" y1="898.00" x2="579.60" y2="1062.50" stroke="#000" stroke-width="3.7"/>
<line x1="588.90" y1="903.50" x2="588.90" y2="941.60" stroke="#000" stroke-width="3.7"/>
<line x1="588.90" y1="980.60" x2="588.90" y2="1062.50" stroke="#000" stroke-width="3.7"/>
<line x1="645.90" y1="925.00" x2="645.90" y2="1062.50" stroke="#000" stroke-width="3.7"/>
<line x1="663.20" y1="933.40" x2="663.20" y2="951.70" stroke="#000" stroke-width="3.4"/>
<line x1="663.20" y1="967.90" x2="663.20" y2="1062.50" stroke="#000" stroke-width="3.4"/>
<line x1="382.60" y1="1062.50" x2="382.60" y2="1071.80" stroke="#101010" stroke-width="1.3" stroke-linecap="butt"/>
<line x1="457.70" y1="1062.50" x2="457.70" y2="1071.80" stroke="#101010" stroke-width="1.3" stroke-linecap="butt"/>
<line x1="533.00" y1="1062.50" x2="533.00" y2="1071.80" stroke="#101010" stroke-width="1.3" stroke-linecap="butt"/>
<line x1="608.00" y1="1062.50" x2="608.00" y2="1071.80" stroke="#101010" stroke-width="1.3" stroke-linecap="butt"/>
<line x1="683.00" y1="1062.50" x2="683.00" y2="1071.80" stroke="#101010" stroke-width="1.3" stroke-linecap="butt"/>
<text x="381.90" y="1084.00" text-anchor="middle" font-size="12.5" >-400</text>
<text x="457.40" y="1084.00" text-anchor="middle" font-size="12.5" >0</text>
<text x="533.00" y="1084.00" text-anchor="middle" font-size="12.5" >400</text>
<text x="607.50" y="1084.00" text-anchor="middle" font-size="12.5" >800</text>
<text x="683.00" y="1084.00" text-anchor="middle" font-size="12.5" >1200</text>
<line x1="452.40" y1="1062.50" x2="452.40" y2="1090.50" stroke="#101010" stroke-width="1.3" stroke-linecap="butt"/>
<text x="450.70" y="1104.70" text-anchor="middle" font-size="12.5" >-20</text>
<line x1="578.60" y1="1062.50" x2="578.60" y2="1071.80" stroke="#101010" stroke-width="1.3" stroke-linecap="butt"/>
<text x="578.00" y="1084.60" text-anchor="middle" font-size="12.5" >650</text>
<line x1="588.90" y1="1062.50" x2="588.90" y2="1088.60" stroke="#101010" stroke-width="1.3" stroke-linecap="butt"/>
<text x="588.40" y="1099.90" text-anchor="middle" font-size="12.5" >700</text>
<path d="M601.00,1094.75 L606.89,1088.20 L620.60,1088.20 L620.60,1101.30 L606.89,1101.30 Z" fill="none" stroke="#000" stroke-width="1.15" stroke-linejoin="miter"/>
<text x="612.75" y="1100.20" text-anchor="middle" font-size="13.2" style="stroke-width:1.0px">2</text>
<line x1="645.70" y1="1062.50" x2="645.70" y2="1088.60" stroke="#101010" stroke-width="1.3" stroke-linecap="butt"/>
<g transform="translate(329.90,991.70) rotate(-90)" font-size="14">
<text x="-1.4" y="0" textLength="70.80" lengthAdjust="spacingAndGlyphs">PRESSURE</text>
<text x="80.40" y="0" textLength="40.3" lengthAdjust="spacingAndGlyphs">DROP</text>
<text x="118.90" y="0">,</text>
<text x="131.20" y="0" textLength="21.10" lengthAdjust="spacingAndGlyphs">PSI</text>
</g>
<g transform="translate(735.50,992.40) rotate(-90)" font-size="14">
<text x="-1.4" y="0" textLength="68.60" lengthAdjust="spacingAndGlyphs">PRESSURE</text>
<text x="76.70" y="0" textLength="40.3" lengthAdjust="spacingAndGlyphs">DROP</text>
<text x="115.20" y="0">,</text>
<text x="129.00" y="0" textLength="28.50" lengthAdjust="spacingAndGlyphs">BAR</text>
</g>
</svg></body></html>
